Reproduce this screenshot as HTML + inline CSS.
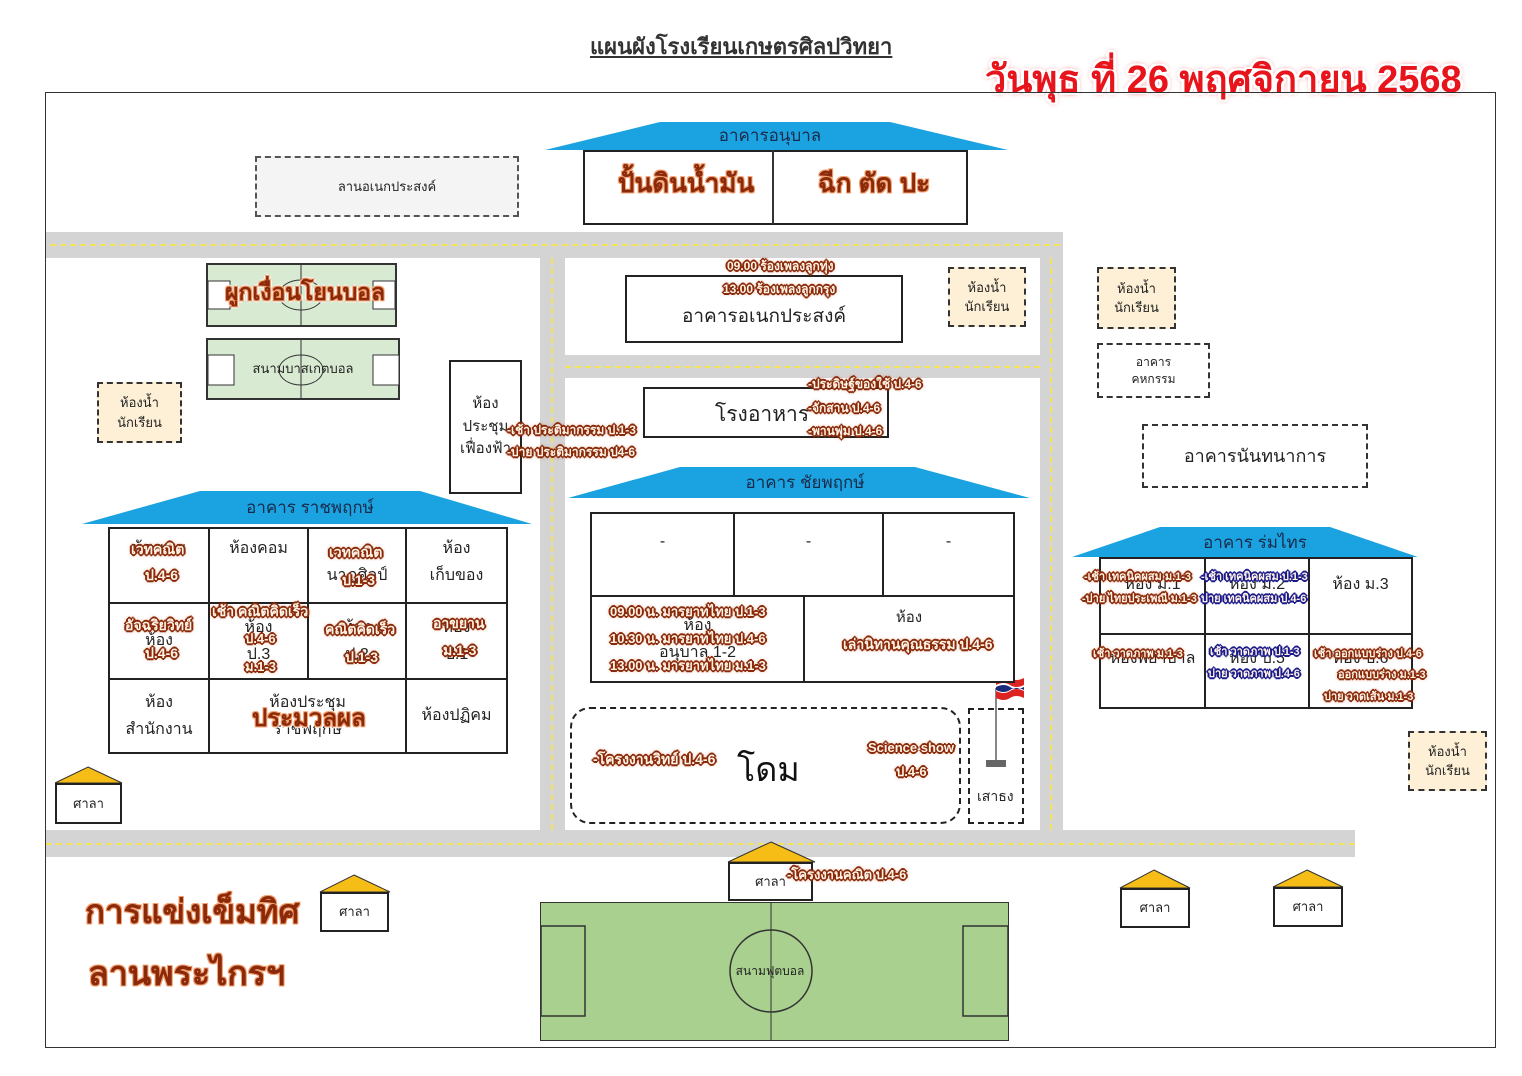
<!DOCTYPE html>
<html><head><meta charset="utf-8"><style>
*{margin:0;padding:0;box-sizing:border-box}
body{width:1522px;height:1076px;background:#fff;position:relative;overflow:hidden;font-family:"Liberation Sans","Noto Sans CJK SC","WenQuanYi Zen Hei",sans-serif;color:#222}
.a{position:absolute}
.box{position:absolute;border:2px solid #222;background:#fff}
.road{position:absolute;background:#d4d4d4}
.yh{position:absolute;height:0;border-top:2px dashed #f2e35a}
.yv{position:absolute;width:0;border-left:2px dashed #f2e35a}
.c{position:absolute;display:flex;align-items:center;justify-content:center;text-align:center;line-height:1.5}
.s{position:absolute;font-size:12px;font-weight:bold;color:#fff3e6;white-space:nowrap;line-height:1;
text-shadow:1px 1px 0 #8a2a0a,-1px -1px 0 #8a2a0a,1px -1px 0 #8a2a0a,-1px 1px 0 #8a2a0a,2px 0 0 #8a2a0a,-2px 0 0 #8a2a0a,0 2px 0 #8a2a0a,0 -2px 0 #8a2a0a,0 0 4px #c0400a}
.b{position:absolute;font-weight:bold;color:#8a2a0a;white-space:nowrap;line-height:1;
text-shadow:1px 1px 0 #f3a070,-1px -1px 0 #f3a070,1px -1px 0 #f3a070,-1px 1px 0 #f3a070,2px 0 0 #fff,-2px 0 0 #fff,0 2px 0 #fff,0 -2px 0 #fff}
.t{position:absolute;border-collapse:collapse;font-size:16px}
.t td{border:2px solid #222;text-align:center;vertical-align:middle;background:#fff;line-height:1.7}
.bl{text-shadow:1px 1px 0 #1a1a8a,-1px -1px 0 #1a1a8a,1px -1px 0 #1a1a8a,-1px 1px 0 #1a1a8a,2px 0 0 #1a1a8a,-2px 0 0 #1a1a8a,0 2px 0 #1a1a8a,0 -2px 0 #1a1a8a}
</style></head><body>

<div class="a" style="left:590px;top:29px;font-size:22px;font-weight:bold;text-decoration:underline;color:#333;white-space:nowrap">แผนผังโรงเรียนเกษตรศิลปวิทยา</div>
<div class="a" style="left:985px;top:48px;font-size:38px;font-weight:bold;color:#e8141c;white-space:nowrap;text-shadow:2px 2px 0 #fff,-2px -2px 0 #fff,2px -2px 0 #fff,-2px 2px 0 #fff,3px 0 0 #fff,-3px 0 0 #fff,0 0 6px #e8141c">วันพุธ ที่ 26 พฤศจิกายน 2568</div>

<div class="a" style="left:45px;top:92px;width:1451px;height:956px;border:1.5px solid #333"></div>

<div class="road" style="left:46px;top:232px;width:1017px;height:26px"></div>
<div class="road" style="left:540px;top:258px;width:25px;height:572px"></div>
<div class="road" style="left:1040px;top:232px;width:23px;height:598px"></div>
<div class="road" style="left:565px;top:355px;width:475px;height:23px"></div>
<div class="road" style="left:46px;top:830px;width:1309px;height:27px"></div>
<div class="yh" style="left:50px;top:244px;width:1010px"></div>
<div class="yv" style="left:551px;top:258px;height:572px"></div>
<div class="yv" style="left:1050px;top:258px;height:572px"></div>
<div class="yh" style="left:565px;top:366px;width:475px"></div>
<div class="yh" style="left:46px;top:843px;width:1309px"></div>

<svg class="a" style="left:0;top:0" width="1522" height="1076">
<polygon points="660,122 890,122 1008,150 545,150" fill="#1aa3e0"/>
<polygon points="200,491 420,491 532,524 82,524" fill="#1aa3e0"/>
<polygon points="680,467 915,467 1030,498 568,498" fill="#1aa3e0"/>
<polygon points="1160,527 1330,527 1418,557 1072,557" fill="#1aa3e0"/>
<polygon points="88,767 122,783 55,783" fill="#f6bd16" stroke="#333"/>
<polygon points="771,842 815,862 728,862" fill="#f6bd16" stroke="#333"/>
<polygon points="354,875 390,892 320,892" fill="#f6bd16" stroke="#333"/>
<polygon points="1154,870 1190,888 1120,888" fill="#f6bd16" stroke="#333"/>
<polygon points="1307,870 1343,887 1273,887" fill="#f6bd16" stroke="#333"/>
<line x1="996" y1="688" x2="996" y2="762" stroke="#888" stroke-width="2"/>
<rect x="986" y="760" width="20" height="7" fill="#666"/>
<path d="M996,678 q8,-4 14,0 t14,0 v20 q-8,-4 -14,0 t-14,0z" fill="#d22"/>
<path d="M996,685 q8,-4 14,0 t14,0 v6 q-8,-4 -14,0 t-14,0z" fill="#fff"/>
<path d="M996,687 q8,-4 14,0 t14,0 v3 q-8,-4 -14,0 t-14,0z" fill="#1a2a7a"/>
</svg>
<div class="c" style="left:620px;top:124px;width:300px;height:24px;font-size:17px;color:#1a2a4a">อาคารอนุบาล</div>
<div class="c" style="left:150px;top:496px;width:320px;height:24px;font-size:17px;color:#1a2a4a">อาคาร ราชพฤกษ์</div>
<div class="c" style="left:650px;top:471px;width:310px;height:24px;font-size:17px;color:#1a2a4a">อาคาร ชัยพฤกษ์</div>
<div class="c" style="left:1110px;top:531px;width:290px;height:24px;font-size:17px;color:#1a2a4a">อาคาร ร่มไทร</div>

<div class="box" style="left:583px;top:150px;width:385px;height:75px"></div>
<div class="a" style="left:772px;top:150px;width:1.5px;height:74px;background:#333"></div>
<div class="b" style="left:618px;top:170px;font-size:26px">ปั้นดินน้ำมัน</div>
<div class="b" style="left:818px;top:170px;font-size:26px">ฉีก ตัด ปะ</div>

<div class="c" style="left:255px;top:156px;width:264px;height:61px;border:2px dashed #555;background:#f4f4f4;font-size:13px">ลานอเนกประสงค์</div>

<div class="a" style="left:206px;top:263px;width:191px;height:64px;background:#d9ead3;border:2px solid #333"></div>
<div class="a" style="left:206px;top:338px;width:194px;height:62px;background:#d9ead3;border:2px solid #333"></div>
<svg class="a" style="left:206px;top:263px" width="194" height="140">
<line x1="95" y1="0" x2="95" y2="64" stroke="#333"/><ellipse cx="95" cy="32" rx="22" ry="15" fill="none" stroke="#333"/>
<rect x="2" y="18" width="22" height="28" fill="#fff" stroke="#333"/><rect x="167" y="18" width="22" height="28" fill="#fff" stroke="#333"/>
<line x1="95" y1="75" x2="95" y2="137" stroke="#333"/><ellipse cx="95" cy="107" rx="22" ry="15" fill="none" stroke="#333"/>
<rect x="2" y="92" width="26" height="30" fill="#fff" stroke="#333"/><rect x="167" y="92" width="26" height="30" fill="#fff" stroke="#333"/>
</svg>
<div class="b" style="left:225px;top:281px;font-size:23px">ผูกเงื่อนโยนบอล</div>
<div class="c" style="left:206px;top:358px;width:194px;height:22px;font-size:13px">สนามบาสเกตบอล</div>

<div class="c" style="left:97px;top:382px;width:85px;height:61px;border:2px dashed #333;background:#fdf0d6;font-size:13px">ห้องน้ำ<br>นักเรียน</div>
<div class="c" style="left:948px;top:267px;width:78px;height:60px;border:2px dashed #333;background:#fdf0d6;font-size:13px">ห้องน้ำ<br>นักเรียน</div>
<div class="c" style="left:1097px;top:267px;width:79px;height:62px;border:2px dashed #333;background:#fdf0d6;font-size:13px">ห้องน้ำ<br>นักเรียน</div>
<div class="c" style="left:1408px;top:731px;width:79px;height:60px;border:2px dashed #333;background:#fdf0d6;font-size:13px">ห้องน้ำ<br>นักเรียน</div>
<div class="c" style="left:1097px;top:343px;width:113px;height:55px;border:2px dashed #333;font-size:12px;line-height:1.4">อาคาร<br>คหกรรม</div>
<div class="c" style="left:1142px;top:424px;width:226px;height:64px;border:2px dashed #333;font-size:18px">อาคารนันทนาการ</div>

<div class="c" style="left:449px;top:360px;width:73px;height:134px;border:2px solid #222;font-size:15px">ห้อง<br>ประชุม<br>เฟื่องฟ้า</div>
<div class="s" style="left:507px;top:424px">-เช้า ประติมากรรม ป.1-3</div>
<div class="s" style="left:507px;top:446px">-บ่าย ประติมากรรม ป4-6</div>

<table class="t" style="left:108px;top:527px;width:400px;height:227px">
<tr style="height:75px"><td style="width:100px;vertical-align:top;padding-top:6px">ห้องเลข</td><td style="width:99px;vertical-align:top;padding-top:6px">ห้องคอม</td><td style="width:98px;vertical-align:top;padding-top:6px"><br>นาฏศิลป์</td><td style="vertical-align:top;padding-top:6px">ห้อง<br>เก็บของ</td></tr>
<tr style="height:76px"><td>ห้อง</td><td>ห้อง<br>ป.3</td><td>ห้อง<br>ป.2</td><td>ห้อง<br>ป.1</td></tr>
<tr><td>ห้อง<br>สำนักงาน</td><td colspan="2">ห้องประชุม<br>ราชพฤกษ์</td><td>ห้องปฏิคม</td></tr>
</table>
<div class="s" style="left:131px;top:542px;font-size:14px">เวทคณิต</div>
<div class="s" style="left:145px;top:568px;font-size:14px">ป.4-6</div>
<div class="s" style="left:329px;top:545px;font-size:14px">เวทคณิต</div>
<div class="s" style="left:342px;top:573px;font-size:14px">ป.1-3</div>
<div class="s" style="left:212px;top:604px;font-size:14px">เช้า คณิตคิดเร็ว</div>
<div class="s" style="left:245px;top:632px;font-size:13px">ป.4-6</div>
<div class="s" style="left:245px;top:660px;font-size:13px">ม.1-3</div>
<div class="s" style="left:125px;top:618px;font-size:14px">อัจฉริยวิทย์</div>
<div class="s" style="left:145px;top:646px;font-size:14px">ป.4-6</div>
<div class="s" style="left:325px;top:622px;font-size:14px">คณิตคิดเร็ว</div>
<div class="s" style="left:345px;top:650px;font-size:14px">ป.1-3</div>
<div class="s" style="left:433px;top:616px;font-size:14px">อาขยาน</div>
<div class="s" style="left:443px;top:643px;font-size:14px">ม.1-3</div>
<div class="b" style="left:252px;top:707px;font-size:24px">ประมวลผล</div>

<div class="box" style="left:55px;top:783px;width:67px;height:41px"></div>
<div class="c" style="left:55px;top:783px;width:67px;height:41px;font-size:13px">ศาลา</div>

<div class="box" style="left:625px;top:275px;width:278px;height:68px"></div>
<div class="c" style="left:625px;top:302px;width:278px;height:30px;font-size:19px">อาคารอเนกประสงค์</div>
<div class="s" style="left:727px;top:260px">09.00 ร้องเพลงลูกทุ่ง</div>
<div class="s" style="left:723px;top:283px">13.00 ร้องเพลงลูกกรุง</div>

<div class="box" style="left:643px;top:387px;width:246px;height:51px"></div>
<div class="a" style="left:715px;top:398px;font-size:21px">โรงอาหาร</div>
<div class="s" style="left:808px;top:378px">-ประดิษฐ์ของใช้ ป.4-6</div>
<div class="s" style="left:808px;top:402px">-จักสาน ป.4-6</div>
<div class="s" style="left:808px;top:425px">-พานพุ่ม ป.4-6</div>

<table class="t" style="left:590px;top:512px;width:425px;height:171px">
<tr style="height:85px"><td style="width:143px;vertical-align:top;padding-top:14px">-</td><td style="width:149px;vertical-align:top;padding-top:14px">-</td><td style="vertical-align:top;padding-top:14px">-</td></tr>
</table>
<table class="t" style="left:590px;top:595px;width:425px;height:88px">
<tr><td style="width:213px">ห้อง<br>อนุบาล 1-2</td><td style="vertical-align:top;padding-top:8px;font-size:15px">ห้อง</td></tr>
</table>
<div class="s" style="left:610px;top:605px;font-size:13px">09.00 น. มารยาทไทย ป.1-3</div>
<div class="s" style="left:610px;top:632px;font-size:13px">10.30 น. มารยาทไทย ป.4-6</div>
<div class="s" style="left:610px;top:659px;font-size:13px">13.00 น. มารยาทไทย ม.1-3</div>
<div class="s" style="left:843px;top:637px;font-size:14px">เล่านิทานคุณธรรม ป.4-6</div>

<div class="a" style="left:570px;top:707px;width:391px;height:117px;border:2px dashed #222;border-radius:20px"></div>
<div class="a" style="left:968px;top:708px;width:56px;height:116px;border:2px dashed #222"></div>
<div class="a" style="left:977px;top:786px;font-size:14px">เสาธง</div>
<div class="a" style="left:737px;top:742px;font-size:34px;color:#111">โดม</div>
<div class="s" style="left:593px;top:752px;font-size:14px">-โครงงานวิทย์ ป.4-6</div>
<div class="s" style="left:868px;top:741px;font-size:13px">Science show</div>
<div class="s" style="left:896px;top:765px;font-size:13px">ป.4-6</div>

<table class="t" style="left:1099px;top:557px;width:314px;height:152px">
<tr style="height:76px"><td style="width:105px;vertical-align:top;padding-top:12px">ห้อง ม.1</td><td style="width:104px;vertical-align:top;padding-top:12px">ห้อง ม.2</td><td style="vertical-align:top;padding-top:12px">ห้อง ม.3</td></tr>
<tr><td style="vertical-align:top;padding-top:10px">ห้องพยาบาล</td><td style="vertical-align:top;padding-top:10px">ห้อง ป.5</td><td style="vertical-align:top;padding-top:10px">ห้อง ป.6</td></tr>
</table>
<div class="s" style="left:1084px;top:572px;font-size:11px">-เช้า เทคนิคผสม ม.1-3</div>
<div class="s" style="left:1082px;top:594px;font-size:11px">-บ่าย ไทยประเพณี ม.1-3</div>
<div class="s bl" style="left:1201px;top:572px;font-size:11px">-เช้า เทคนิคผสม ป.1-3</div>
<div class="s bl" style="left:1201px;top:594px;font-size:11px">บ่าย เทคนิคผสม ป.4-6</div>
<div class="s" style="left:1093px;top:649px;font-size:11px">เช้า วาดภาพ ม.1-3</div>
<div class="s bl" style="left:1210px;top:647px;font-size:11px">เช้า วาดภาพ ป.1-3</div>
<div class="s bl" style="left:1208px;top:669px;font-size:11px">บ่าย วาดภาพ ป.4-6</div>
<div class="s" style="left:1314px;top:649px;font-size:11px">เช้า ออกแบบร่าง ป.4-6</div>
<div class="s" style="left:1338px;top:670px;font-size:11px">ออกแบบร่าง ม.1-3</div>
<div class="s" style="left:1324px;top:692px;font-size:11px">บ่าย วาดเส้น ม.1-3</div>

<div class="a" style="left:540px;top:902px;width:469px;height:139px;background:#a9d08e;border:1.5px solid #333"></div>
<svg class="a" style="left:540px;top:902px" width="469" height="139">
<line x1="231" y1="0" x2="231" y2="139" stroke="#333"/>
<circle cx="231" cy="69" r="41" fill="none" stroke="#333" stroke-width="1.5"/>
<rect x="1" y="24" width="44" height="90" fill="none" stroke="#333" stroke-width="1.5"/>
<rect x="423" y="24" width="45" height="90" fill="none" stroke="#333" stroke-width="1.5"/>
</svg>
<div class="c" style="left:720px;top:961px;width:100px;height:20px;font-size:12px">สนามฟุตบอล</div>

<div class="box" style="left:728px;top:862px;width:85px;height:39px"></div>
<div class="c" style="left:728px;top:864px;width:85px;height:36px;font-size:13px">ศาลา</div>
<div class="s" style="left:787px;top:868px;font-size:13px">-โครงงานคณิต ป.4-6</div>
<div class="box" style="left:320px;top:892px;width:69px;height:40px"></div>
<div class="c" style="left:320px;top:892px;width:69px;height:40px;font-size:13px">ศาลา</div>
<div class="box" style="left:1120px;top:888px;width:70px;height:40px"></div>
<div class="c" style="left:1120px;top:888px;width:70px;height:40px;font-size:13px">ศาลา</div>
<div class="box" style="left:1273px;top:887px;width:70px;height:40px"></div>
<div class="c" style="left:1273px;top:887px;width:70px;height:40px;font-size:13px">ศาลา</div>

<div class="b" style="left:85px;top:895px;font-size:33px">การแข่งเข็มทิศ</div>
<div class="b" style="left:88px;top:957px;font-size:34px">ลานพระไกรฯ</div>
</body></html>
